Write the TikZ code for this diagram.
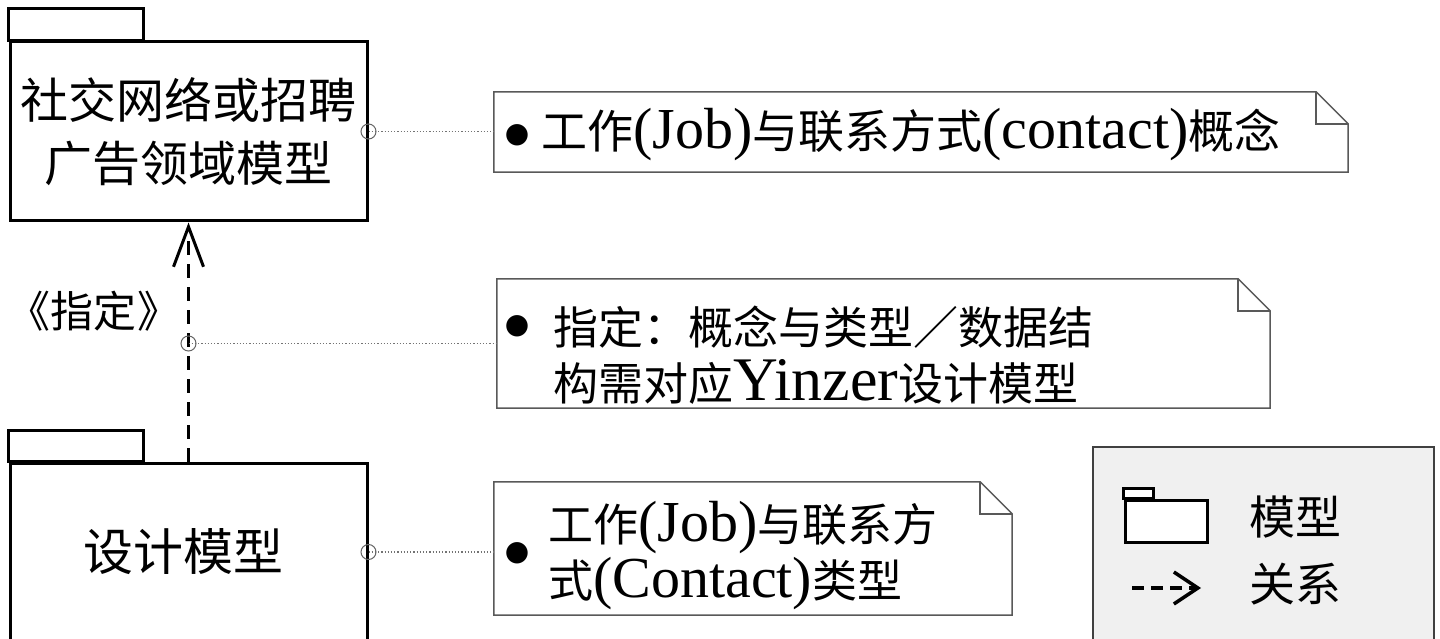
\documentclass[tikz,border=0pt]{standalone}
\usepackage{fontspec}
\setmainfont{Liberation Serif}
\newfontfamily\cjk{Noto Sans CJK SC}
\newfontfamily\dejavu{DejaVu Sans}
\usetikzlibrary{arrows.meta,calc}
\newcommand\la[1]{{\rmfamily\fontsize{58}{56}\selectfont #1}}
\newcommand\lc[1]{{\rmfamily\fontsize{62}{56}\selectfont #1}}
\begin{document}
\begin{tikzpicture}[x=1pt,y=-1pt,
  pkg/.style={draw=black, line width=3pt, rectangle, inner sep=0pt},
  notebg/.style={rectangle, inner sep=0pt},
  noteline/.style={draw=black!65, line width=1.5pt},
  link/.style={draw=black!55, dotted, line width=1.2pt},
  port/.style={circle, draw=black!60, line width=1pt, minimum size=15pt, inner sep=0pt},
  dep/.style={line width=3pt, dash pattern=on 14pt off 9pt, -{Straight Barb[length=40pt,width=30pt]}},
  ntext/.style={inner sep=0pt, font=\cjk\fontsize{45}{56}\selectfont, align=left},
  ptext/.style={inner sep=0pt, align=center},
  bul/.style={inner sep=0pt, font=\dejavu\fontsize{28}{28}\selectfont}
]
\clip (0,0) rectangle (1440,639);
\fill[white] (0,0) rectangle (1440,639);

% packages
\node[pkg, minimum width=357pt, minimum height=179pt] (p1) at (188.5,131.5) {};
\draw[line width=3pt] (p1.north west) rectangle ++(135,-32);
\node[ptext, font=\cjk\fontsize{48}{63}\selectfont] (p1t) at (188.5,132) {社交网络或招聘\\广告领域模型};

\node[pkg, minimum width=357pt, minimum height=182pt] (p2) at (188.5,554) {};
\draw[line width=3pt] (p2.north west) rectangle ++(135,-31);
\node[ptext, font=\cjk\fontsize{50}{60}\selectfont] (p2t) at (183,552) {设计模型};

% dependency
\draw[dep] (p2.north) -- (p1.south);
\node[inner sep=0pt, font=\cjk\fontsize{43}{48}\selectfont] (lbl) at (94,311) {《指定》};

% notes
\node[notebg, minimum width=854pt, minimum height=80pt] (n1) at (921,132) {};
\node[notebg, minimum width=773pt, minimum height=129pt] (n2) at (883.5,343.5) {};
\node[notebg, minimum width=518pt, minimum height=133pt] (n3) at (753,548.5) {};
\foreach \n in {n1,n2,n3}{
  \draw[noteline] (\n.north west) -- ([xshift=-32pt]\n.north east) -- ([yshift=-32pt]\n.north east) -- (\n.south east) -- (\n.south west) -- cycle;
  \draw[noteline] ([xshift=-32pt]\n.north east) |- ([yshift=-32pt]\n.north east);
}

% note texts
\node[bul] (b1) at (517,135) {●};
\node[ntext, anchor=west, font=\cjk\fontsize{46}{56}\selectfont] (t1) at (541,135) {工作\la{(Job)}与联系方式\la{(contact)}概念};
\node[bul] (b2) at (517,326) {●};
\node[ntext, anchor=west] (t2) at (553,355) {指定：概念与类型／数据结\\构需对应\lc{Yinzer}设计模型};
\node[bul] (b3) at (517,553) {●};
\node[ntext, anchor=west] (t3) at (548,556) {工作\la{(Job)}与联系方\\式\la{(Contact)}类型};

% links
\coordinate (m) at (p1.south |- n2.west);
\draw[link] (p1.east) -- (p1.east -| n1.west);
\draw[link] (m) -- (m -| n2.west);
\draw[link] (p2t -| p2.east) -- (p2t -| n3.west);
\node[port] (c1) at (p1.east) {};
\node[port] (c2) at (m) {};
\node[port] (c3) at (p2t -| p2.east) {};

% legend
\node[rectangle, draw=black!75, line width=2pt, fill=black!6, minimum width=341pt, minimum height=220pt, inner sep=0pt] (leg) at (1263.5,557) {};
\node[rectangle, draw=black, line width=3pt, fill=white, minimum width=82pt, minimum height=42pt, inner sep=0pt] (fic) at (1166,521) {};
\draw[line width=3pt, fill=white] (fic.north west) rectangle ++(30,-10);
\node[inner sep=0pt, font=\cjk\fontsize{46}{50}\selectfont] (lt1) at (1295,517) {模型};
\coordinate (a0) at (1132,588);
\coordinate (a1) at (1201,588);
\draw[line width=3.5pt, dash pattern=on 12pt off 7pt, -{Straight Barb[length=24pt,width=32pt]}] (a0) -- (a1);
\node[inner sep=0pt, font=\cjk\fontsize{46}{50}\selectfont] (lt2) at (1295,584) {关系};
\end{tikzpicture}
\end{document}
